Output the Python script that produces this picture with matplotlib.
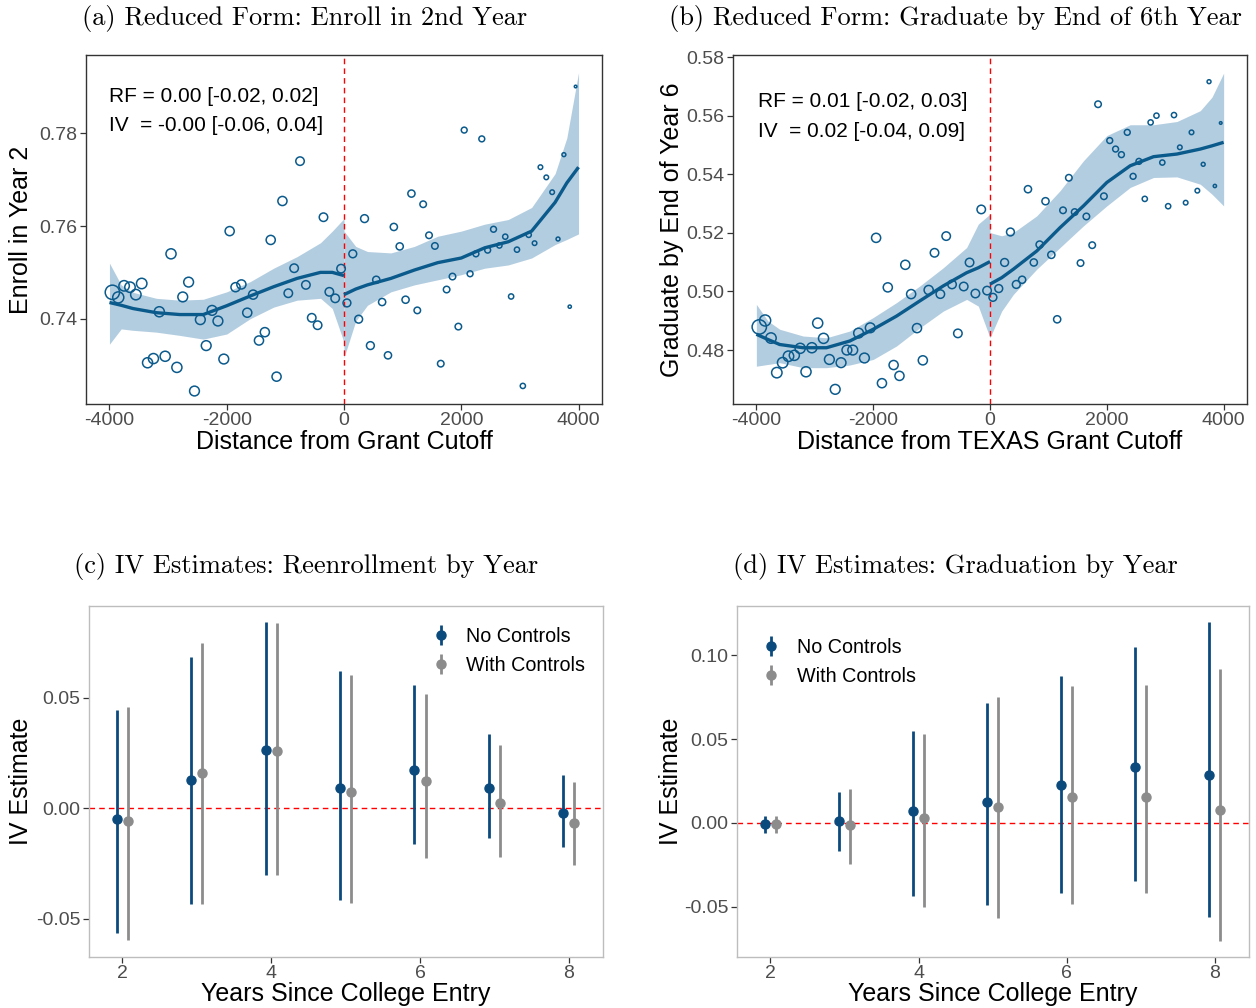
import numpy as np
import matplotlib
matplotlib.use("Agg")
import matplotlib.pyplot as plt

plt.rcParams['font.family'] = ['Liberation Sans', 'DejaVu Sans']
plt.rcParams['axes.unicode_minus'] = False

# ---- binned scatter data (bin centres, 100-unit bins) ----
bins = np.arange(-3950, 4000, 100)
bin_n = [484, 289, 256, 256, 256, 256, 240, 240, 240, 240,
         240, 240, 225, 225, 225, 225, 225, 225, 225, 225,
         196, 196, 196, 196, 196, 196, 196, 196, 196, 196,
         169, 169, 169, 169, 169, 169, 169, 169, 169, 169,
         144, 144, 144, 144, 144, 121, 121, 121, 121, 121,
         121, 121, 100, 100, 100, 100, 100, 100, 100, 100,
         81, 81, 81, 81, 81, 81, 64, 64, 64, 64,
         64, 64, 49, 49, 49, 49, 36, 36, 25, 16]

enroll_y2 = [0.7457, 0.7446, 0.7471, 0.7468, 0.7452, 0.7476, 0.7305, 0.7314, 0.7415, 0.7319,
             0.7540, 0.7295, 0.7447, 0.7479, 0.7244, 0.7398, 0.7342, 0.7418, 0.7395, 0.7313,
             0.7589, 0.7468, 0.7474, 0.7413, 0.7452, 0.7353, 0.7371, 0.7570, 0.7275, 0.7654,
             0.7455, 0.7509, 0.7740, 0.7473, 0.7402, 0.7386, 0.7619, 0.7458, 0.7444, 0.7508,
             0.7434, 0.7540, 0.7399, 0.7616, 0.7342, 0.7484, 0.7436, 0.7321, 0.7598, 0.7556,
             0.7441, 0.7670, 0.7418, 0.7647, 0.7580, 0.7557, 0.7303, 0.7463, 0.7491, 0.7383,
             0.7807, 0.7497, 0.7540, 0.7788, 0.7548, 0.7593, 0.7558, 0.7577, 0.7448, 0.7549,
             0.7255, 0.7581, 0.7563, 0.7727, 0.7705, 0.7673, 0.7572, 0.7754, 0.7426, 0.7901]

grad_y6 = [0.4879, 0.4901, 0.4841, 0.4723, 0.4757, 0.4779, 0.4782, 0.4806, 0.4726, 0.4808,
           0.4892, 0.4840, 0.4768, 0.4666, 0.4757, 0.4800, 0.4800, 0.4858, 0.4773, 0.4876,
           0.5183, 0.4687, 0.5014, 0.4749, 0.4712, 0.5091, 0.4991, 0.4875, 0.4765, 0.5005,
           0.5132, 0.4991, 0.5189, 0.5024, 0.4857, 0.5017, 0.5099, 0.4993, 0.5280, 0.5003,
           0.4980, 0.5010, 0.5099, 0.5203, 0.5024, 0.5040, 0.5349, 0.5099, 0.5160, 0.5308,
           0.5125, 0.4905, 0.5277, 0.5388, 0.5271, 0.5097, 0.5256, 0.5158, 0.5639, 0.5325,
           0.5515, 0.5486, 0.5467, 0.5543, 0.5393, 0.5444, 0.5316, 0.5577, 0.5600, 0.5440,
           0.5291, 0.5602, 0.5492, 0.5303, 0.5543, 0.5344, 0.5434, 0.5716, 0.5360, 0.5575]

# ---- smoothed fits with confidence bands, read at these x positions ----
fit_x_left = [-4000, -3800, -3600, -3200, -2800, -2400, -2000, -1600, -1200, -800, -400, -200, 0]
fit_x_right = [0, 200, 400, 800, 1200, 1600, 2000, 2400, 2800, 3200, 3600, 3800, 4000]

a_fit_left = [0.7435, 0.7429, 0.7422, 0.7413, 0.7409, 0.7409, 0.7428, 0.7449, 0.7469, 0.7487, 0.7500, 0.7500, 0.7493]
a_hi_left = [0.7520, 0.7473, 0.7457, 0.7444, 0.7440, 0.7442, 0.7458, 0.7480, 0.7509, 0.7534, 0.7564, 0.7589, 0.7616]
a_lo_left = [0.7345, 0.7378, 0.7375, 0.7371, 0.7364, 0.7356, 0.7367, 0.7400, 0.7425, 0.7440, 0.7444, 0.7422, 0.7349]
a_fit_right = [0.7452, 0.7464, 0.7473, 0.7487, 0.7505, 0.7521, 0.7531, 0.7553, 0.7566, 0.7589, 0.7651, 0.7693, 0.7727]
a_hi_right = [0.7589, 0.7556, 0.7545, 0.7542, 0.7556, 0.7578, 0.7589, 0.7604, 0.7614, 0.7640, 0.7713, 0.7790, 0.7931]
a_lo_right = [0.7316, 0.7395, 0.7429, 0.7458, 0.7473, 0.7484, 0.7495, 0.7509, 0.7516, 0.7531, 0.7560, 0.7571, 0.7583]

b_fit_left = [0.4854, 0.4836, 0.4819, 0.4808, 0.4808, 0.4831, 0.4871, 0.4916, 0.4968, 0.5019, 0.5064, 0.5081, 0.5102]
b_hi_left = [0.4956, 0.4899, 0.4871, 0.4848, 0.4842, 0.4865, 0.4911, 0.4962, 0.5019, 0.5081, 0.5150, 0.5230, 0.5264]
b_lo_left = [0.4745, 0.4751, 0.4757, 0.4740, 0.4740, 0.4749, 0.4768, 0.4814, 0.4876, 0.4933, 0.4973, 0.4950, 0.4842]
b_fit_right = [0.5025, 0.5047, 0.5076, 0.5138, 0.5218, 0.5292, 0.5372, 0.5429, 0.5460, 0.5469, 0.5486, 0.5497, 0.5509]
b_hi_right = [0.5201, 0.5190, 0.5201, 0.5258, 0.5344, 0.5446, 0.5532, 0.5569, 0.5569, 0.5580, 0.5617, 0.5663, 0.5745]
b_lo_right = [0.4842, 0.4933, 0.4990, 0.5076, 0.5150, 0.5224, 0.5292, 0.5355, 0.5389, 0.5391, 0.5366, 0.5332, 0.5292]

# ---- IV estimates by year ----
years = [2, 3, 4, 5, 6, 7, 8]
c_est_nc = [-0.0050, 0.0127, 0.0262, 0.0089, 0.0170, 0.0089, -0.0021]
c_lo_nc = [-0.0565, -0.0432, -0.0303, -0.0416, -0.0163, -0.0134, -0.0176]
c_hi_nc = [0.0444, 0.0685, 0.0843, 0.0620, 0.0556, 0.0334, 0.0149]
c_est_wc = [-0.0059, 0.0157, 0.0256, 0.0071, 0.0124, 0.0024, -0.0069]
c_lo_wc = [-0.0599, -0.0435, -0.0303, -0.0429, -0.0226, -0.0221, -0.0256]
c_hi_wc = [0.0459, 0.0745, 0.0836, 0.0601, 0.0517, 0.0285, 0.0119]

d_est_nc = [-0.0008, 0.0014, 0.0070, 0.0127, 0.0228, 0.0334, 0.0284]
d_lo_nc = [-0.0058, -0.0167, -0.0437, -0.0489, -0.0417, -0.0344, -0.0560]
d_hi_nc = [0.0040, 0.0183, 0.0546, 0.0717, 0.0874, 0.1045, 0.1198]
d_est_wc = [-0.0004, -0.0012, 0.0032, 0.0095, 0.0153, 0.0157, 0.0079]
d_lo_wc = [-0.0060, -0.0246, -0.0501, -0.0566, -0.0485, -0.0417, -0.0705]
d_hi_wc = [0.0040, 0.0205, 0.0532, 0.0749, 0.0813, 0.0819, 0.0914]

SCAT = '#0b5a8c'
BAND = '#b3cde0'
BLUE = '#0b4a7d'
GRAY = '#8c8c8c'
TICKC = '#4d4d4d'

fig = plt.figure(figsize=(12.56, 10.08), dpi=100)
W, H = 1256, 1008


def add_ax(l, r, t, b):
    return fig.add_axes([l / W, 1 - b / H, (r - l) / W, (b - t) / H])


def style(ax, spine_col):
    for s in ax.spines.values():
        s.set_color(spine_col)
        s.set_linewidth(1.0)
    ax.tick_params(axis='both', labelsize=14, labelcolor=TICKC, color='#333333',
                   length=4, width=0.9, pad=2)


def rd_panel(ax, y, fl, hl, ll, fr, hr, lr):
    ax.fill_between(fit_x_left, ll, hl, color=BAND, lw=0, zorder=1)
    ax.fill_between(fit_x_right, lr, hr, color=BAND, lw=0, zorder=1)
    ax.axvline(0, color='red', ls=(0, (4, 3)), lw=1.0, zorder=2)
    ax.scatter(bins, y, s=np.array(bin_n) * 0.22, facecolors='none',
               edgecolors=SCAT, linewidths=1.1, zorder=3)
    ax.plot(fit_x_left, fl, color=SCAT, lw=2.4, zorder=4, solid_capstyle='butt')
    ax.plot(fit_x_right, fr, color=SCAT, lw=2.4, zorder=4, solid_capstyle='butt')
    ax.set_xlim(-4400, 4400)
    ax.set_xticks([-4000, -2000, 0, 2000, 4000])


# (a)
ax1 = add_ax(86, 602, 55, 404)
rd_panel(ax1, enroll_y2, a_fit_left, a_hi_left, a_lo_left, a_fit_right, a_hi_right, a_lo_right)
ax1.set_ylim(0.7216, 0.7969)
ax1.set_yticks([0.74, 0.76, 0.78])
ax1.set_yticklabels(['0.74', '0.76', '0.78'])
style(ax1, '#333333')
ax1.set_xlabel('Distance from Grant Cutoff', fontsize=18)
ax1.xaxis.set_label_coords(0.5, -0.074)
ax1.set_ylabel('Enroll in Year 2', fontsize=18)
ax1.yaxis.set_label_coords(-0.103, 0.5)
ax1.text(0.0445, 0.8825, 'RF = 0.00 [-0.02, 0.02]', transform=ax1.transAxes,
         fontsize=15, va='center', ha='left')
ax1.text(0.0445, 0.797, 'IV  = -0.00 [-0.06, 0.04]', transform=ax1.transAxes,
         fontsize=15, va='center', ha='left')

# (b)
ax2 = add_ax(733, 1247, 55, 404)
rd_panel(ax2, grad_y6, b_fit_left, b_hi_left, b_lo_left, b_fit_right, b_hi_right, b_lo_right)
ax2.set_ylim(0.4616, 0.5807)
ax2.set_yticks([0.48, 0.50, 0.52, 0.54, 0.56, 0.58])
ax2.set_yticklabels(['0.48', '0.50', '0.52', '0.54', '0.56', '0.58'])
style(ax2, '#333333')
ax2.set_xlabel('Distance from TEXAS Grant Cutoff', fontsize=18)
ax2.xaxis.set_label_coords(0.5, -0.074)
ax2.set_ylabel('Graduate by End of Year 6', fontsize=18)
ax2.yaxis.set_label_coords(-0.095, 0.5)
ax2.text(0.0486, 0.868, 'RF = 0.01 [-0.02, 0.03]', transform=ax2.transAxes,
         fontsize=15, va='center', ha='left')
ax2.text(0.0486, 0.782, 'IV  = 0.02 [-0.04, 0.09]', transform=ax2.transAxes,
         fontsize=15, va='center', ha='left')


def iv_panel(ax, e1, lo1, hi1, e2, lo2, hi2, leg_loc, leg_anchor):
    yr = np.array(years, dtype=float)
    ax.axhline(0, color='red', ls=(0, (4, 3)), lw=1.0, zorder=1)
    e1, lo1, hi1 = map(np.array, (e1, lo1, hi1))
    e2, lo2, hi2 = map(np.array, (e2, lo2, hi2))
    h1 = ax.errorbar(yr - 0.075, e1, yerr=[e1 - lo1, hi1 - e1], fmt='o', color=BLUE,
                     ms=6.5, elinewidth=2.0, capsize=0, zorder=3, label='No Controls')
    h2 = ax.errorbar(yr + 0.075, e2, yerr=[e2 - lo2, hi2 - e2], fmt='o', color=GRAY,
                     ms=6.5, elinewidth=2.0, capsize=0, zorder=3, label='With Controls')
    ax.set_xlim(1.55, 8.46)
    ax.set_xticks([2, 4, 6, 8])
    style(ax, '#bdbdbd')
    ax.set_xlabel('Years Since College Entry', fontsize=18)
    ax.xaxis.set_label_coords(0.5, -0.071)
    ax.set_ylabel('IV Estimate', fontsize=18)
    ax.legend(handles=[h1, h2], loc=leg_loc, bbox_to_anchor=leg_anchor, frameon=False,
              fontsize=14.2, handlelength=0.6, handletextpad=1.0, labelspacing=0.5)


# (c)
ax3 = add_ax(89, 603, 606, 957)
iv_panel(ax3, c_est_nc, c_lo_nc, c_hi_nc, c_est_wc, c_lo_wc, c_hi_wc,
         'upper right', (1.0, 0.99))
ax3.set_ylim(-0.0674, 0.0914)
ax3.set_yticks([-0.05, 0.0, 0.05])
ax3.set_yticklabels(['-0.05', '0.00', '0.05'])
ax3.yaxis.set_label_coords(-0.109, 0.5)

# (d)
ax4 = add_ax(737, 1249, 606, 957)
iv_panel(ax4, d_est_nc, d_lo_nc, d_hi_nc, d_est_wc, d_lo_wc, d_hi_wc,
         'upper left', (0.02, 0.96))
ax4.set_ylim(-0.0798, 0.1292)
ax4.set_yticks([-0.05, 0.0, 0.05, 0.10])
ax4.set_yticklabels(['-0.05', '0.00', '0.05', '0.10'])
ax4.yaxis.set_label_coords(-0.105, 0.5)

# subfigure captions
cap = dict(family='cmr10', fontsize=19, ha='center', va='center')
fig.text(305 / W, 1 - 18 / H, '(a) Reduced Form: Enroll in 2nd Year', **cap)
fig.text(955 / W, 1 - 18 / H, '(b) Reduced Form: Graduate by End of 6th Year', **cap)
fig.text(306 / W, 1 - 567 / H, '(c) IV Estimates: Reenrollment by Year', **cap)
fig.text(955 / W, 1 - 567 / H, '(d) IV Estimates: Graduation by Year', **cap)

fig.savefig('out.png', dpi=100)
